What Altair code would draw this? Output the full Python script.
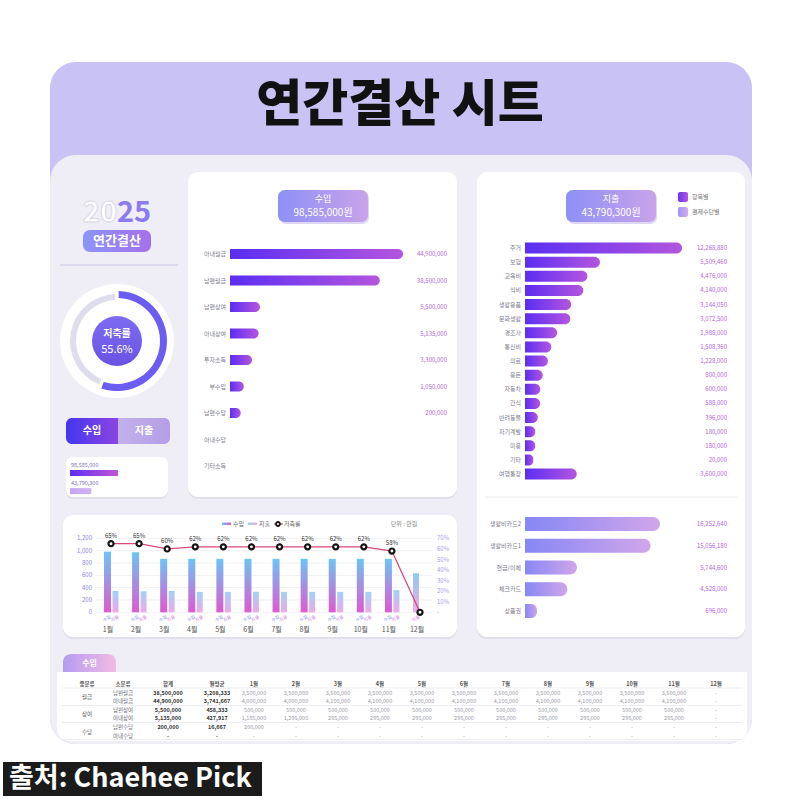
import altair as alt
import pandas as pd

FONT = "Noto Sans CJK KR"

# ---------------- data ----------------
total_labels = ["수입", "지출"]
total_vals = [98585000, 43790300]
savings_seg = ["저축", "지출"]
savings_vals = [55.6, 44.4]

income_cats = ["아내월급", "남편월급", "남편상여", "아내상여", "투자소득", "부수입", "남편수당", "아내수당", "기타소득"]
income_vals = [44900000, 38500000, 5500000, 5135000, 3300000, 1050000, 200000, 0, 0]

expense_cats = ["주거", "보험", "교육비", "식비", "생활용품", "문화생활", "경조사", "통신비", "의료",
                "용돈", "자동차", "간식", "반려동물", "자기계발", "미용", "기타", "여행통장"]
expense_vals = [12268880, 5509460, 4476000, 4140000, 3144050, 3072500, 1988000, 1508360, 1228000,
                800000, 600000, 588000, 396000, 180000, 180000, 20000, 3600000]

pay_cats = ["생활비카드2", "생활비카드1", "현금/이체", "체크카드", "상품권"]
pay_vals = [16252640, 15056180, 5744600, 4528000, 696000]

months = ["1월", "2월", "3월", "4월", "5월", "6월", "7월", "8월", "9월", "10월", "11월", "12월"]
month_income = [985, 975, 868, 868, 868, 868, 868, 868, 868, 868, 868, None]
month_expense = [346, 342, 346, 332, 332, 332, 332, 332, 332, 332, 362, 633]
month_rate = [65, 65, 60, 62, 62, 62, 62, 62, 62, 62, 58, 0]
left_ticks = [0, 200, 400, 600, 800, 1000, 1200]
right_ticks = [0, 10, 20, 30, 40, 50, 60, 70]
right_tick_labels = ["-", "10%", "20%", "30%", "40%", "50%", "60%", "70%"]

tbl_head = ["중분류", "소분류", "합계", "월평균"]
tbl_group = ["월급", "상여", "수당"]
tbl_sub = ["남편월급", "아내월급", "남편상여", "아내상여", "남편수당", "아내수당"]
tbl_total = [38500000, 44900000, 5500000, 5135000, 200000, 0]
tbl_avg = [3208333, 3741667, 458333, 427917, 16667, 0]
tbl_month = [
    [3500000, 3500000, 3500000, 3500000, 3500000, 3500000, 3500000, 3500000, 3500000, 3500000, 3500000, 0],
    [4000000, 4000000, 4100000, 4100000, 4100000, 4100000, 4100000, 4100000, 4100000, 4100000, 4100000, 0],
    [500000, 500000, 500000, 500000, 500000, 500000, 500000, 500000, 500000, 500000, 500000, 0],
    [1185000, 1295000, 295000, 295000, 295000, 295000, 295000, 295000, 295000, 295000, 295000, 0],
    [200000, 0, 0, 0, 0, 0, 0, 0, 0, 0, 0, 0],
    [0, 0, 0, 0, 0, 0, 0, 0, 0, 0, 0, 0],
]

# ---------------- helpers ----------------
ONE = pd.DataFrame({"k": [0]})


def grad(c1, c2, vertical=False):
    return alt.Gradient(
        gradient="linear",
        stops=[alt.GradientStop(offset=0, color=c1), alt.GradientStop(offset=1, color=c2)],
        x1=0, y1=0, x2=0 if vertical else 1, y2=1 if vertical else 0,
    )


def box(x1, y1, x2, y2, fill, r=0, **kw):
    return alt.Chart(ONE).mark_rect(fill=fill, cornerRadius=r, strokeWidth=0, **kw).encode(
        x=alt.value(x1), x2=alt.value(x2), y=alt.value(y1), y2=alt.value(y2))


def hline(x1, x2, y, color, w=1):
    return alt.Chart(ONE).mark_rule(color=color, strokeWidth=w).encode(
        x=alt.value(x1), x2=alt.value(x2), y=alt.value(y))


def txt(x, y, s, size=10, color="#333", weight="normal", align="center", baseline="middle", **kw):
    return alt.Chart(ONE).mark_text(text=s, fontSize=size, color=color, fontWeight=weight, align=align,
                                    baseline=baseline, font=FONT, **kw).encode(x=alt.value(x), y=alt.value(y))


def card(x1, y1, x2, y2, r=10):
    return [box(x1, y1 + 2, x2, y2 + 2, "#e0dfeb", r), box(x1, y1, x2, y2, "#ffffff", r)]


L = []

# ---------------- background ----------------
L.append(box(50, 62, 752, 744, "#c9c3f5", 26))
L.append(box(50, 155, 752, 744, "#efeef6", 26))
L.append(txt(400, 106, "연간결산 시트", size=50, color="#111111", weight=900))

# ---------------- left column ----------------
L.append(txt(117, 222, "20", size=29, color="#ffffff", weight="bold", align="right", baseline="alphabetic",
             stroke="#d9d8e8", strokeWidth=1))
L.append(txt(117, 222, "25", size=29, color="#8b7bef", weight="bold", align="left", baseline="alphabetic"))
L.append(box(83, 230, 151, 252, grad("#8c95f7", "#a470ea"), 7))
L.append(txt(117, 241, "연간결산", size=13, color="#ffffff", weight="bold"))
L.append(hline(60, 178, 265, "#dcdaee", 2))

# donut
sdf = pd.DataFrame({"seg": savings_seg, "v": savings_vals, "o": [0, 1]})
theta = alt.Theta("v:Q", stack=True, scale=alt.Scale(domain=[0, 100], range=[0, 6.2832]))
L.append(alt.Chart(ONE).mark_circle(size=114 * 114, fill="#ffffff", opacity=1, strokeWidth=0).encode(
    x=alt.value(117), y=alt.value(341)))
L.append(alt.Chart(sdf).mark_arc(radius=47, radius2=41, padAngle=0.05).encode(
    theta=theta, order=alt.Order("o:Q"),
    color=alt.Color("seg:N", scale=alt.Scale(domain=savings_seg, range=["rgba(0,0,0,0)", "#dedded"]), legend=None),
    x=alt.value(117), y=alt.value(341)))
L.append(alt.Chart(sdf).mark_arc(radius=50, radius2=43, padAngle=0.05).encode(
    theta=theta, order=alt.Order("o:Q"),
    color=alt.Color("seg:N", scale=alt.Scale(domain=savings_seg, range=["#6c5df2", "rgba(0,0,0,0)"]), legend=None),
    x=alt.value(117), y=alt.value(341)))
L.append(alt.Chart(ONE).mark_circle(size=2500, fill=grad("#7d6cf2", "#6a52e2", vertical=True), opacity=1,
                                    strokeWidth=0).encode(x=alt.value(117), y=alt.value(341)))
L.append(txt(117, 334, "저축률", size=10, color="#ffffff", weight="bold"))
L.append(alt.Chart(sdf).transform_filter("datum.seg == '저축'").transform_calculate(
    lbl="datum.v + '%'").mark_text(fontSize=11, color="#ffffff", font=FONT).encode(
    x=alt.value(117), y=alt.value(350), text="lbl:N"))

# buttons
L.append(box(66, 418, 118, 444, grad("#4337ee", "#8a45e2"), 0, cornerRadiusTopLeft=6, cornerRadiusBottomLeft=6))
L.append(box(118, 418, 170, 444, grad("#c2b0ea", "#b59ee6"), 0, cornerRadiusTopRight=6, cornerRadiusBottomRight=6))
L.append(txt(92, 431, "수입", size=10, color="#ffffff", weight="bold"))
L.append(txt(144, 431, "지출", size=10, color="#ffffff", weight="bold"))

# mini card
L += card(66, 457, 168, 497, 7)
tdf = pd.DataFrame({"k": total_labels, "v": total_vals})
ty = alt.Y("k:N", scale=alt.Scale(type="band", domain=total_labels, range=[463.75, 500.25], paddingInner=0,
                                  paddingOuter=0), axis=None)
tx = alt.X("v:Q", scale=alt.Scale(domain=[0, 98585000], range=[70, 118], nice=False, zero=False), axis=None)
L.append(alt.Chart(tdf).transform_filter("datum.k == '수입'").mark_bar(size=6, fill=grad("#5b30f0", "#c257d6")).encode(
    x=tx, x2=alt.X2Datum(0), y=ty))
L.append(alt.Chart(tdf).transform_filter("datum.k == '지출'").mark_bar(size=6, fill=grad("#c4a4f2", "#d2b2f2")).encode(
    x=tx, x2=alt.X2Datum(0), y=ty))
L.append(alt.Chart(tdf).mark_text(fontSize=5.5, color="#7a70b8", align="left", dy=-8, font=FONT).encode(
    x=alt.value(71), y=ty, text=alt.Text("v:Q", format=",")))

# ---------------- income panel ----------------
L += card(188, 172, 457, 497, 10)
L.append(box(279, 192, 369, 224, "#ddd6f4", 7))
L.append(box(278, 190, 368, 222, grad("#8d90f6", "#c9a3ea"), 7))
L.append(txt(323, 199, "수입", size=9, color="#ffffff"))
L.append(txt(323, 213, "98,585,000원", size=10, color="#ffffff"))

idf = pd.DataFrame({"cat": income_cats, "val": income_vals})
iy = alt.Y("cat:N", scale=alt.Scale(type="band", domain=income_cats, range=[240.75, 479.25], paddingInner=0,
                                    paddingOuter=0), axis=None)
ix = alt.X("val:Q", scale=alt.Scale(domain=[0, 44900000], range=[240, 403], nice=False, zero=False), axis=None)
L.append(alt.Chart(idf).transform_filter("datum.val > 0").mark_bar(
    size=10, fill=grad("#5a2ef2", "#b455df"), x2Offset=-10, cornerRadiusTopRight=5, cornerRadiusBottomRight=5).encode(
    x=ix, x2=alt.X2Datum(0), y=iy))
L.append(alt.Chart(idf).mark_text(fontSize=6, color="#7c7c8c", align="right", font=FONT).encode(
    x=alt.value(226), y=iy, text="cat:N"))
L.append(alt.Chart(idf).transform_filter("datum.val > 0").mark_text(
    fontSize=6, color="#b466d8", align="right", font=FONT).encode(
    x=alt.value(447), y=iy, text=alt.Text("val:Q", format=",")))

# ---------------- expense panel ----------------
L += card(477, 172, 745, 637, 10)
L.append(box(567, 192, 657, 224, "#ddd6f4", 7))
L.append(box(566, 190, 656, 222, grad("#8d90f6", "#c9a3ea"), 7))
L.append(txt(611, 199, "지출", size=9, color="#ffffff"))
L.append(txt(611, 213, "43,790,300원", size=10, color="#ffffff"))
L.append(box(678, 192, 688, 202, grad("#6a35ee", "#b456e0"), 2))
L.append(box(678, 207, 688, 217, grad("#a095f5", "#d2acee"), 2))
L.append(txt(692, 197, "항목별", size=6, color="#777", align="left"))
L.append(txt(692, 212, "결제수단별", size=6, color="#777", align="left"))

edf = pd.DataFrame({"cat": expense_cats, "val": expense_vals})
estep = (474 - 248) / 16
ey = alt.Y("cat:N", scale=alt.Scale(type="band", domain=expense_cats, range=[248 - estep / 2, 474 + estep / 2],
                                    paddingInner=0, paddingOuter=0), axis=None)
ex = alt.X("val:Q", scale=alt.Scale(domain=[0, 12268880], range=[533, 682], nice=False, zero=False), axis=None)
L.append(alt.Chart(edf).mark_bar(size=11, fill=grad("#5a2ef2", "#b455df"), x2Offset=-8,
                                 cornerRadiusTopRight=5.5, cornerRadiusBottomRight=5.5).encode(
    x=ex, x2=alt.X2Datum(0), y=ey))
L.append(alt.Chart(edf).mark_text(fontSize=6, color="#7c7c8c", align="right", font=FONT).encode(
    x=alt.value(521), y=ey, text="cat:N"))
L.append(alt.Chart(edf).mark_text(fontSize=6, color="#b466d8", align="right", font=FONT).encode(
    x=alt.value(727), y=ey, text=alt.Text("val:Q", format=",")))

L.append(hline(485, 737, 497, "#ececf3", 1))

pdf = pd.DataFrame({"cat": pay_cats, "val": pay_vals})
pstep = (611 - 524) / 4
py = alt.Y("cat:N", scale=alt.Scale(type="band", domain=pay_cats, range=[524 - pstep / 2, 611 + pstep / 2],
                                    paddingInner=0, paddingOuter=0), axis=None)
px = alt.X("val:Q", scale=alt.Scale(domain=[0, 16252640], range=[531.5, 660], nice=False, zero=False), axis=None)
L.append(alt.Chart(pdf).mark_bar(size=14, fill=grad("#8787f5", "#d0a6ea"), x2Offset=-6.5,
                                 cornerRadiusTopRight=7, cornerRadiusBottomRight=7).encode(
    x=px, x2=alt.X2Datum(0), y=py))
L.append(alt.Chart(pdf).mark_text(fontSize=6, color="#7c7c8c", align="right", font=FONT).encode(
    x=alt.value(521), y=py, text="cat:N"))
L.append(alt.Chart(pdf).mark_text(fontSize=6, color="#b466d8", align="right", font=FONT).encode(
    x=alt.value(727), y=py, text=alt.Text("val:Q", format=",")))

# ---------------- monthly combo chart ----------------
L += card(63, 515, 457, 637, 10)
cdf = pd.DataFrame({"m": months, "inc": month_income, "exp": month_expense, "rate": month_rate})
mstep = (417 - 108) / 11
mx = alt.X("m:N", scale=alt.Scale(type="band", domain=months, range=[108 - mstep / 2, 417 + mstep / 2],
                                  paddingInner=0, paddingOuter=0), axis=None)
yb = alt.Scale(domain=[0, 1200], range=[612.3, 538.4], nice=False, zero=False)
yr = alt.Scale(domain=[0, 70], range=[612.3, 538.4], nice=False, zero=False)

gdf = pd.DataFrame({"t": left_ticks})
L.append(alt.Chart(gdf).mark_rule(color="#f0f0f5", strokeWidth=1).encode(
    y=alt.Y("t:Q", scale=yb, axis=None), x=alt.value(96), x2=alt.value(432)))
L.append(alt.Chart(gdf).mark_text(fontSize=6, color="#8c8ad8", align="right", font=FONT).encode(
    y=alt.Y("t:Q", scale=yb, axis=None), x=alt.value(92), text=alt.Text("t:Q", format=",")))
rdf = pd.DataFrame({"t": right_ticks, "lbl": right_tick_labels})
L.append(alt.Chart(rdf).mark_text(fontSize=6, color="#a99de6", align="left", font=FONT).encode(
    y=alt.Y("t:Q", scale=yr, axis=None), x=alt.value(437), text="lbl:N"))

L.append(alt.Chart(cdf).transform_filter("datum.inc > 0").mark_bar(
    size=7, xOffset=-0.5, fill=grad("#6cc4f6", "#de5ad0", vertical=True)).encode(
    x=mx, y=alt.Y("inc:Q", scale=yb, axis=None)))
L.append(alt.Chart(cdf).transform_filter("datum.inc > 0").mark_bar(
    size=6, xOffset=7.5, fill=grad("#9fd3f7", "#eeaae6", vertical=True)).encode(
    x=mx, y=alt.Y("exp:Q", scale=yb, axis=None)))
L.append(alt.Chart(cdf).transform_filter("!(datum.inc > 0)").mark_bar(
    size=6, xOffset=-1, fill=grad("#8ccbf5", "#eeaae6", vertical=True)).encode(
    x=mx, y=alt.Y("exp:Q", scale=yb, axis=None)))
L.append(alt.Chart(cdf).mark_line(color="#d9497c", strokeWidth=1.3, xOffset=3).encode(
    x=mx, y=alt.Y("rate:Q", scale=yr, axis=None)))
L.append(alt.Chart(cdf).mark_point(shape="circle", filled=True, fill="#ffffff", stroke="#151515",
                                   strokeWidth=2.2, size=26, opacity=1, xOffset=3).encode(
    x=mx, y=alt.Y("rate:Q", scale=yr, axis=None)))
L.append(alt.Chart(cdf).transform_filter("datum.rate > 0").transform_calculate(lbl="datum.rate + '%'").mark_text(
    fontSize=6, color="#333333", dy=-8, xOffset=3, font=FONT).encode(
    x=mx, y=alt.Y("rate:Q", scale=yr, axis=None), text="lbl:N"))
L.append(alt.Chart(cdf).transform_filter("datum.inc > 0").mark_text(
    text="수입", fontSize=4.5, color="#6f86ee", angle=330, xOffset=-1, font=FONT).encode(
    x=mx, y=alt.value(619)))
L.append(alt.Chart(cdf).transform_filter("datum.inc > 0").mark_text(
    text="지출", fontSize=4.5, color="#cf84e2", angle=330, xOffset=7, font=FONT).encode(
    x=mx, y=alt.value(619)))
L.append(alt.Chart(cdf).transform_filter("!(datum.inc > 0)").mark_text(
    text="지출", fontSize=4.5, color="#cf84e2", angle=330, xOffset=-1, font=FONT).encode(
    x=mx, y=alt.value(619)))
L.append(alt.Chart(cdf).mark_text(fontSize=7, color="#555555", font=FONT).encode(
    x=mx, y=alt.value(630), text="m:N"))

# combo legend
L.append(box(222, 522.5, 231, 525, grad("#6cc4f6", "#de5ad0")))
L.append(txt(233, 524, "수입", size=6, color="#666", align="left"))
L.append(box(248, 522.5, 257, 525, grad("#9fd3f7", "#eeaae6")))
L.append(txt(259, 524, "지출", size=6, color="#666", align="left"))
L.append(hline(274, 283, 524, "#d9497c", 1.2))
L.append(alt.Chart(ONE).mark_point(shape="circle", filled=True, fill="#ffffff", stroke="#151515", strokeWidth=1.8,
                                   size=16, opacity=1).encode(x=alt.value(278), y=alt.value(524)))
L.append(txt(284, 524, "저축률", size=6, color="#666", align="left"))
L.append(txt(404, 524, "단위 : 만원", size=6, color="#888"))

# ---------------- table ----------------
L.append(box(63, 654, 116, 673, grad("#b59bf0", "#f2bbe6"), 0, cornerRadiusTopLeft=8, cornerRadiusTopRight=8))
L.append(txt(89.5, 663.5, "수입", size=8, color="#ffffff", weight="bold"))
L.append(box(57, 672, 747, 741, "#ffffff", 0, cornerRadiusBottomLeft=12, cornerRadiusBottomRight=12))

hx = {"중분류": 87, "소분류": 123, "합계": 168, "월평균": 217}
for h in tbl_head:
    L.append(txt(hx[h], 683.5, h, size=5.5, color="#555555", weight="bold"))
hdf = pd.DataFrame({"col": months})
monx = alt.X("col:N", scale=alt.Scale(type="point", domain=months, range=[254, 716], padding=0), axis=None)
L.append(alt.Chart(hdf).mark_text(fontSize=5.5, color="#555555", fontWeight="bold", font=FONT).encode(
    x=monx, y=alt.value(683.5), text="col:N"))
for yy in [688, 705.5, 722.5, 739.5]:
    L.append(hline(62, 742, yy, "#e8e7ef", 0.8))


def fmt(v):
    return f"{v:,}" if v else "-"


recs = []
for i, s in enumerate(tbl_sub):
    recs.append({"row": s, "col": "소분류", "text": s})
    recs.append({"row": s, "col": "합계", "text": fmt(tbl_total[i])})
    recs.append({"row": s, "col": "월평균", "text": fmt(tbl_avg[i])})
    for j, m in enumerate(months):
        recs.append({"row": s, "col": m, "text": fmt(tbl_month[i][j])})
tdf2 = pd.DataFrame(recs)
rowy = alt.Y("row:N", scale=alt.Scale(type="point", domain=tbl_sub, range=[692.5, 735.5], padding=0), axis=None)
L.append(alt.Chart(tdf2).transform_filter("datum.col == '소분류'").mark_text(
    fontSize=5.5, color="#6a6a7a", font=FONT).encode(x=alt.value(123), y=rowy, text="text:N"))
L.append(alt.Chart(tdf2).transform_filter("datum.col == '합계'").mark_text(
    fontSize=5.5, color="#333333", fontWeight="bold", font=FONT).encode(x=alt.value(168), y=rowy, text="text:N"))
L.append(alt.Chart(tdf2).transform_filter("datum.col == '월평균'").mark_text(
    fontSize=5.5, color="#333333", fontWeight="bold", font=FONT).encode(x=alt.value(217), y=rowy, text="text:N"))
L.append(alt.Chart(tdf2).transform_filter(alt.FieldOneOfPredicate(field="col", oneOf=months)).mark_text(
    fontSize=5.5, color="#9a9aa6", font=FONT).encode(x=monx, y=rowy, text="text:N"))
gdf2 = pd.DataFrame({"g": tbl_group})
L.append(alt.Chart(gdf2).mark_text(fontSize=5.5, color="#555555", font=FONT).encode(
    x=alt.value(87), y=alt.Y("g:N", scale=alt.Scale(type="point", domain=tbl_group, range=[696.6, 731.5], padding=0),
                             axis=None), text="g:N"))

# ---------------- source label ----------------
L.append(box(3, 762, 262, 796, "#1b1b1b"))
L.append(txt(9, 779, "출처: Chaehee Pick", size=27, color="#ffffff", weight="bold", align="left"))

chart = alt.layer(*L).resolve_scale(
    x="independent", y="independent", color="independent", theta="independent"
).properties(
    width=800, height=800, padding=0, background="#ffffff",
    autosize=alt.AutoSizeParams(type="none"),
).configure_view(stroke=None)

chart.save("out.html", embed_options={"renderer": "svg", "actions": False})
